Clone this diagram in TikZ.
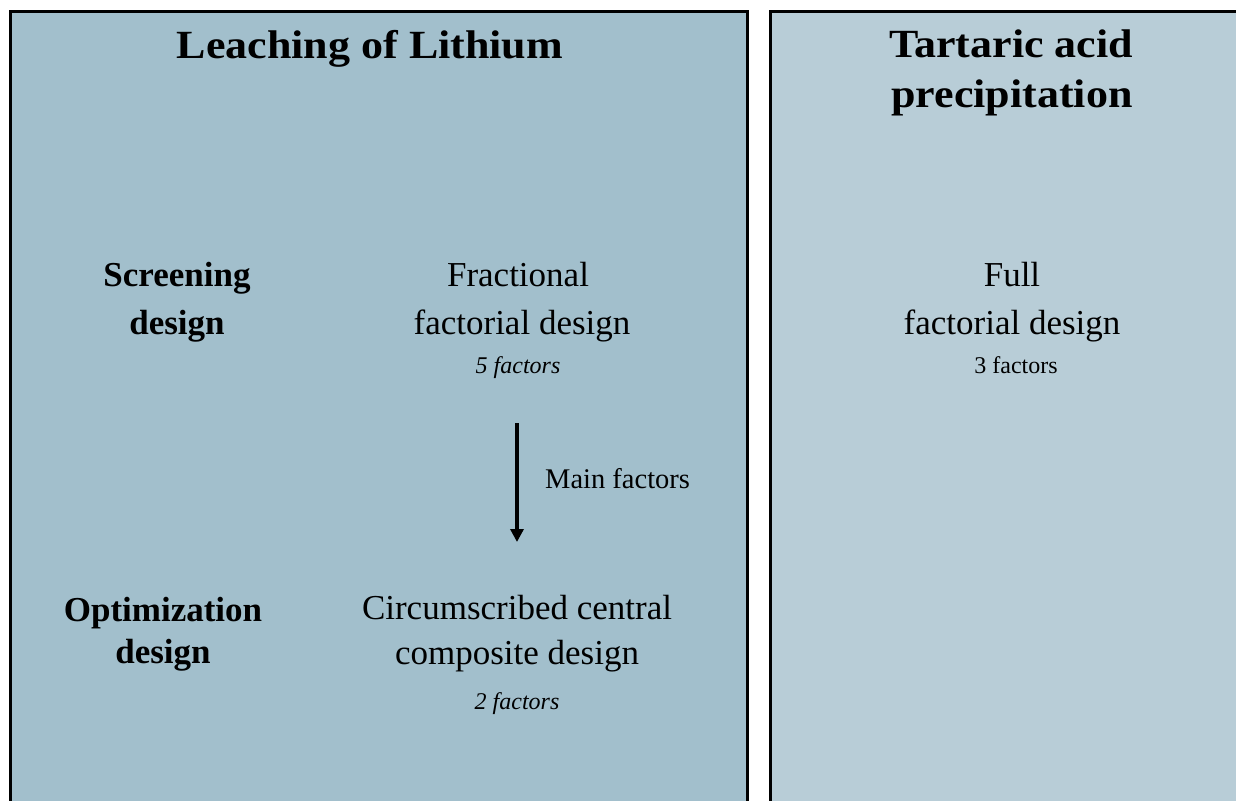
\documentclass[tikz,border=0pt]{standalone}
\usepackage{fontspec}
\setmainfont{Liberation Serif}
\newfontfamily\ttlfont[FakeStretch=1.1]{Liberation Serif}
\usetikzlibrary{arrows.meta}
\definecolor{leftfill}{RGB}{162,191,204}
\definecolor{rightfill}{RGB}{184,205,215}
\begin{document}
\begin{tikzpicture}[x=1pt,y=-1pt,
  panel/.style={draw=black,line width=3pt},
  ttl/.style={font=\ttlfont\fontsize{40}{48}\selectfont\bfseries,inner sep=0pt,anchor=base},
  side/.style={font=\fontsize{35}{40}\selectfont\bfseries,inner sep=0pt,anchor=base},
  body/.style={font=\fontsize{35}{40}\selectfont,inner sep=0pt,anchor=base},
  small/.style={font=\fontsize{24}{28}\selectfont,inner sep=0pt,anchor=base},
  lab/.style={font=\fontsize{28.5}{32}\selectfont,inner sep=0pt,anchor=base west},
  flow/.style={line width=3.5pt,-{Triangle[width=13pt,length=13pt]}}]
\useasboundingbox (0,0) rectangle (1236,800);
\clip (0,0) rectangle (1236,800);
\fill[white] (0,0) rectangle (1236,800);
\draw[panel,fill=leftfill] (10.5,11.5) rectangle (747.5,812);
\draw[panel,fill=rightfill] (770.5,11.5) rectangle (1250,812);
% left panel
\node[ttl] (t1) at (370,59) {Leaching of Lithium};
\node[side] (s1a) at (177,286) {Screening};
\node[side] (s1b) at (177,334) {design};
\node[body] (f1a) at (518,286) {Fractional};
\node[body] (f1b) at (522,334) {factorial design};
\node[small,font=\fontsize{24}{28}\selectfont\itshape] (n1) at (518,373) {5 factors};
\coordinate (a1) at (517,423);
\coordinate (a2) at (517,542);
\draw[flow] (a1) -- (a2);
\node[lab] (m) at (545,488) {Main factors};
\node[side] (s2a) at (163,621) {Optimization};
\node[side] (s2b) at (163,663) {design};
\node[body] (f2a) at (517,619) {Circumscribed central};
\node[body] (f2b) at (517,664) {composite design};
\node[small,font=\fontsize{24}{28}\selectfont\itshape] (n2) at (517,709) {2 factors};
% right panel
\node[ttl] (t2a) at (1011,58) {Tartaric acid};
\node[ttl] (t2b) at (1012,107) {precipitation};
\node[body] (f3a) at (1012,286) {Full};
\node[body] (f3b) at (1012,334) {factorial design};
\node[small] (n3) at (1016,373) {3 factors};
\end{tikzpicture}
\end{document}
